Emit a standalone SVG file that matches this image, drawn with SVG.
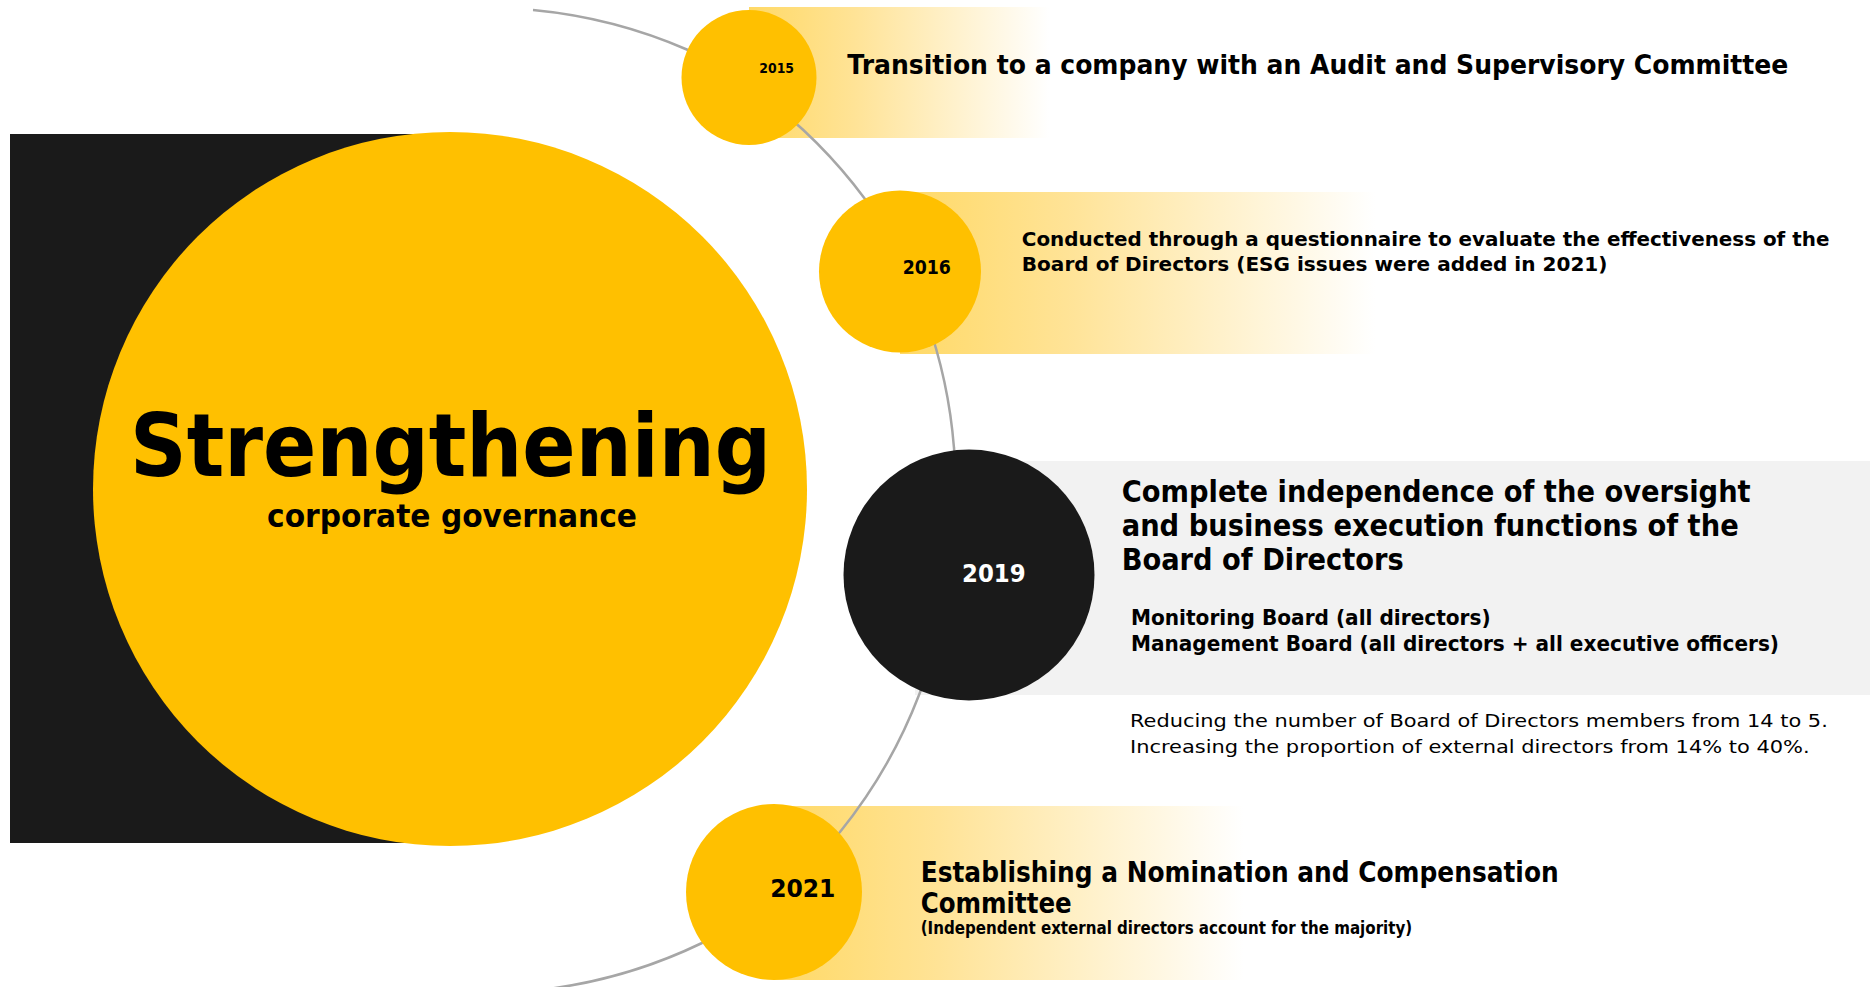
<svg xmlns="http://www.w3.org/2000/svg" width="1870" height="987" viewBox="0 0 1870 987">
<defs>
<linearGradient id="fade" x1="0" y1="0" x2="1" y2="0">
<stop offset="0" stop-color="#FFD966"/>
<stop offset="0.35" stop-color="#FFE396"/>
<stop offset="1" stop-color="#FFFFFF"/>
</linearGradient>
<style>
.t{font-family:"DejaVu Sans",Verdana,"Liberation Sans",sans-serif;fill:#000;}
.b{font-weight:bold;}
.yellow{fill:#FFC000;}
.dark{fill:#1A1A1A;}
.band{fill:url(#fade);}
.arc{fill:none;stroke:#A6A6A6;stroke-width:2.5;}
</style>
</defs>
<rect width="1870" height="987" fill="#FFFFFF"/>

<g id="bands">
<rect class="band" x="749" y="7" width="300" height="131"/>
<rect class="band" x="900" y="192" width="475" height="162"/>
<rect x="915" y="461" width="955" height="234" fill="#F2F2F2"/>
<rect class="band" x="774" y="806" width="470" height="174"/>
</g>

<g id="connectors">
<path class="arc" d="M533,10 A505,505 0 0 1 688,50 A505,505 0 0 1 865,199 A505,505 0 0 1 954,448 A505,505 0 0 1 919,695 A505,505 0 0 1 840,832 A505,505 0 0 1 702,943 A505,505 0 0 1 540,990"/>
</g>

<g id="main">
<rect class="dark" x="10" y="134" width="440" height="709"/>
<circle class="yellow" cx="450" cy="489" r="357"/>
<text class="t b" x="450.5" y="476" font-size="88" text-anchor="middle" textLength="641" lengthAdjust="spacingAndGlyphs">Strengthening</text>
<text class="t b" x="452" y="527" font-size="31.5" text-anchor="middle" textLength="370" lengthAdjust="spacingAndGlyphs">corporate governance</text>
</g>

<g id="n2015">
<circle class="yellow" cx="749" cy="77.5" r="67.5"/>
<text class="t b" x="776.7" y="73.3" font-size="14.5" text-anchor="middle" textLength="34.7" lengthAdjust="spacingAndGlyphs">2015</text>
<text class="t b" x="847.3" y="74" font-size="26" textLength="941" lengthAdjust="spacingAndGlyphs">Transition to a company with an Audit and Supervisory Committee</text>
</g>

<g id="n2016">
<circle class="yellow" cx="900" cy="271.5" r="81"/>
<text class="t b" x="926.8" y="274" font-size="19" text-anchor="middle" textLength="48.3" lengthAdjust="spacingAndGlyphs">2016</text>
<text class="t b" x="1021.8" y="245.7" font-size="19" textLength="807.6" lengthAdjust="spacingAndGlyphs">Conducted through a questionnaire to evaluate the effectiveness of the</text>
<text class="t b" x="1021.8" y="270.5" font-size="19" textLength="585.7" lengthAdjust="spacingAndGlyphs">Board of Directors (ESG issues were added in 2021)</text>
</g>

<g id="n2019">
<circle class="dark" cx="969" cy="575" r="125.5"/>
<text class="t b" x="993.8" y="581.7" font-size="24" text-anchor="middle" style="fill:#FFFFFF" textLength="63.6" lengthAdjust="spacingAndGlyphs">2019</text>
<text class="t b" x="1121.7" y="501.7" font-size="29.7" textLength="629" lengthAdjust="spacingAndGlyphs">Complete independence of the oversight</text>
<text class="t b" x="1121.7" y="535.5" font-size="29.7" textLength="617" lengthAdjust="spacingAndGlyphs">and business execution functions of the</text>
<text class="t b" x="1121.7" y="570" font-size="29.7" textLength="282" lengthAdjust="spacingAndGlyphs">Board of Directors</text>
<text class="t b" x="1131" y="625" font-size="20.5" textLength="359.7" lengthAdjust="spacingAndGlyphs">Monitoring Board (all directors)</text>
<text class="t b" x="1131" y="651" font-size="20.5" textLength="648" lengthAdjust="spacingAndGlyphs">Management Board (all directors + all executive officers)</text>
<text class="t" x="1130" y="727.3" font-size="18" textLength="697.8" lengthAdjust="spacingAndGlyphs">Reducing the number of Board of Directors members from 14 to 5.</text>
<text class="t" x="1130" y="753.3" font-size="18" textLength="679.7" lengthAdjust="spacingAndGlyphs">Increasing the proportion of external directors from 14% to 40%.</text>
</g>

<g id="n2021">
<circle class="yellow" cx="774" cy="892" r="88"/>
<text class="t b" x="802.8" y="897.3" font-size="24" text-anchor="middle" textLength="65.3" lengthAdjust="spacingAndGlyphs">2021</text>
<text class="t b" x="920.7" y="881.7" font-size="27.5" textLength="638" lengthAdjust="spacingAndGlyphs">Establishing a Nomination and Compensation</text>
<text class="t b" x="920.7" y="912.7" font-size="27.5" textLength="151" lengthAdjust="spacingAndGlyphs">Committee</text>
<text class="t b" x="920.7" y="934.3" font-size="17" textLength="491.5" lengthAdjust="spacingAndGlyphs">(Independent external directors account for the majority)</text>
</g>
</svg>
